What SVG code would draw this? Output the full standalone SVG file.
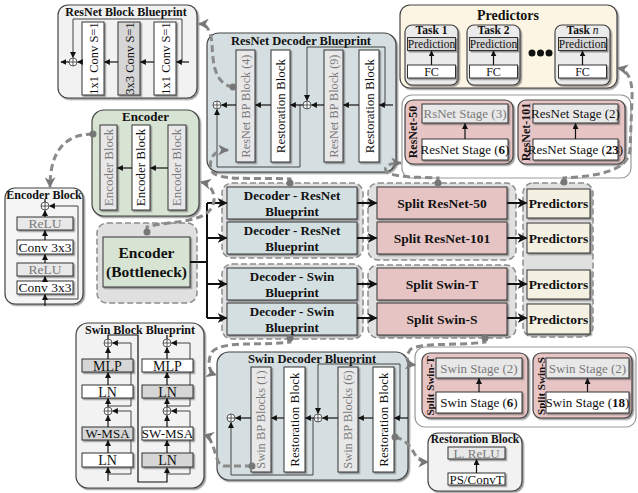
<svg xmlns="http://www.w3.org/2000/svg" width="638" height="493" viewBox="0 0 638 493">
<defs>
<marker id="a" viewBox="0 0 10 10" refX="9" refY="5" markerWidth="6" markerHeight="6" markerUnits="userSpaceOnUse" orient="auto"><path d="M0,0L10,5L0,10z" fill="#111"/></marker>
<marker id="ab" viewBox="0 0 10 10" refX="9" refY="5" markerWidth="10" markerHeight="10" markerUnits="userSpaceOnUse" orient="auto"><path d="M0,0L10,5L0,10L3,5z" fill="#111"/></marker>
<marker id="ag" viewBox="0 0 10 10" refX="9" refY="5" markerWidth="11" markerHeight="11" markerUnits="userSpaceOnUse" orient="auto"><path d="M0,0L10,5L0,10L3,5z" fill="#777"/></marker>
<filter id="sh" x="-10%" y="-10%" width="130%" height="130%"><feDropShadow dx="1.5" dy="1.5" stdDeviation="0.6" flood-color="#555" flood-opacity="0.6"/></filter>
<g id="op"><circle r="4" fill="#fff" stroke="#333" stroke-width="0.8"/><path d="M-4,0H4M0,-4V4" stroke="#333" stroke-width="0.8"/></g>
</defs>
<style>
text{font-family:"Liberation Serif","Times New Roman",serif;fill:#111}
.t{font-weight:bold;text-anchor:middle}
.c{text-anchor:middle}
.g{fill:#7a7a7a}
.box{stroke:#333;stroke-width:1;filter:url(#sh)}
.w{fill:#fff}
.gr{fill:#e8e8e8}
.gd{fill:#d6d6d6}
.panel{stroke:#444;stroke-width:1.2;filter:url(#sh)}
.grp{fill:#e0e0e0;stroke:#8c8c8c;stroke-width:1.5;stroke-dasharray:6 3}
.ln{fill:none;stroke:#111;stroke-width:1.2}
.sk{fill:none;stroke:#444;stroke-width:1}
.th{fill:none;stroke:#111;stroke-width:2}
.dc{fill:none;stroke:#8a8a8a;stroke-width:3;stroke-dasharray:7 4}
.dot{fill:#777}
</style>

<!-- ResNet Block Blueprint -->
<g id="resnet-block-blueprint">
<rect x="58" y="5" width="139" height="93" rx="10" fill="#f2f2f2" class="panel"/>
<text x="126" y="15.5" class="t" font-size="12">ResNet Block Blueprint</text>
<path class="sk" d="M182,62V19H73V57.5" marker-end="url(#a)"/>
<rect x="82" y="22" width="22" height="73" class="box w"/>
<rect x="118" y="22" width="22" height="73" class="box gd"/>
<rect x="154" y="22" width="22" height="73" class="box w"/>
<text transform="translate(93,58.5) rotate(-90)" class="c" font-size="12.5" dy="4.5">1x1 Conv S=1</text>
<text transform="translate(129,58.5) rotate(-90)" class="c" font-size="12.5" dy="4.5">3x3 Conv S=1</text>
<text transform="translate(165,58.5) rotate(-90)" class="c" font-size="12.5" dy="4.5">1x1 Conv S=1</text>
<path class="ln" d="M189,62H176.5" marker-end="url(#a)"/>
<path class="ln" d="M154,62H140.5" marker-end="url(#a)"/>
<path class="ln" d="M118,62H104.5" marker-end="url(#a)"/>
<path class="ln" d="M82,62H77.5" marker-end="url(#a)"/>
<path class="ln" d="M69,62H61" marker-end="url(#a)"/>
<use href="#op" x="73" y="62"/>
</g>

<!-- ResNet Decoder Blueprint -->
<g id="resnet-decoder-blueprint">
<rect x="207" y="33" width="189" height="139" rx="12" fill="#d5dfe1" class="panel"/>
<text x="301" y="45" class="t" font-size="12.5">ResNet Decoder Blueprint</text>
<path class="sk" d="M385,105V47H307V100.5" marker-end="url(#a)"/>
<path class="sk" d="M300,105V167H217V109.5" marker-end="url(#a)"/>
<rect x="236" y="50" width="19" height="112" class="box gr"/>
<rect x="271" y="50" width="19" height="112" class="box w"/>
<rect x="324" y="50" width="19" height="112" class="box gr"/>
<rect x="359" y="50" width="20" height="112" class="box w"/>
<text transform="translate(245.5,106) rotate(-90)" class="c g" font-size="12.2" dy="4.3">ResNet BP Block (4)</text>
<text transform="translate(280.5,106) rotate(-90)" class="c" font-size="13" dy="4.5">Restoration Block</text>
<text transform="translate(333.5,106) rotate(-90)" class="c g" font-size="12.2" dy="4.3">ResNet BP Block (9)</text>
<text transform="translate(369,106) rotate(-90)" class="c" font-size="13" dy="4.5">Restoration Block</text>
<path class="ln" d="M393,105H379.5" marker-end="url(#a)"/>
<path class="ln" d="M359,105H343.5" marker-end="url(#a)"/>
<path class="ln" d="M324,105H311.5" marker-end="url(#a)"/>
<path class="ln" d="M303,105H290.5" marker-end="url(#a)"/>
<path class="ln" d="M271,105H255.5" marker-end="url(#a)"/>
<path class="ln" d="M236,105H221.5" marker-end="url(#a)"/>
<use href="#op" x="307" y="105"/>
<use href="#op" x="217" y="105"/>
</g>

<!-- Predictors (top) -->
<g id="predictors-detail">
<rect x="400" y="5" width="217" height="83" rx="10" fill="#fdf5e4" class="panel"/>
<text x="508" y="20" class="t" font-size="14">Predictors</text>
<g id="task-1">
<rect x="405" y="25" width="53" height="60" rx="7" fill="#ebebeb" class="panel"/>
<text x="431.5" y="34" class="t" font-size="11.5">Task 1</text>
<rect x="407.5" y="37.5" width="48" height="13" class="box gd"/>
<text x="431.5" y="48" class="c" font-size="11.5">Prediction</text>
<rect x="407.5" y="65" width="48" height="13" class="box w"/>
<text x="431.5" y="75.5" class="c" font-size="12">FC</text>
<path class="ln" d="M431.5,65V51" marker-end="url(#a)"/>
</g>
<g id="task-2">
<rect x="467" y="25" width="53" height="60" rx="7" fill="#ebebeb" class="panel"/>
<text x="493.5" y="34" class="t" font-size="11.5">Task 2</text>
<rect x="469.5" y="37.5" width="48" height="13" class="box gd"/>
<text x="493.5" y="48" class="c" font-size="11.5">Prediction</text>
<rect x="469.5" y="65" width="48" height="13" class="box w"/>
<text x="493.5" y="75.5" class="c" font-size="12">FC</text>
<path class="ln" d="M493.5,65V51" marker-end="url(#a)"/>
</g>
<circle cx="532" cy="53" r="3.5" fill="#111"/>
<circle cx="540.5" cy="53" r="3.5" fill="#111"/>
<circle cx="549" cy="53" r="3.5" fill="#111"/>
<g id="task-n">
<rect x="555" y="25" width="55" height="60" rx="7" fill="#ebebeb" class="panel"/>
<text x="582.5" y="34" class="t" font-size="11.5">Task <tspan font-style="italic" font-weight="normal">n</tspan></text>
<rect x="558.5" y="37.5" width="48" height="13" class="box gd"/>
<text x="582.5" y="48" class="c" font-size="11.5">Prediction</text>
<rect x="558.5" y="65" width="48" height="13" class="box w"/>
<text x="582.5" y="75.5" class="c" font-size="12">FC</text>
<path class="ln" d="M582.5,65V51" marker-end="url(#a)"/>
</g>
</g>

<!-- ResNet stages -->
<g id="resnet-stages">
<rect x="402" y="95" width="229" height="83" rx="10" fill="#fff" stroke="#999" stroke-width="1.2"/>
<g id="resnet-50">
<rect x="405" y="100" width="108" height="64" rx="8" fill="#e8c5c5" class="panel"/>
<text transform="translate(413,132) rotate(-90)" class="t" font-size="12" dy="4.3">ResNet-50</text>
<rect x="422" y="104" width="86" height="19" class="box gr"/>
<text x="465" y="118" class="c g" font-size="13">RsNet Stage (3)</text>
<rect x="422" y="139" width="86" height="21" class="box w"/>
<text x="465" y="154" class="c" font-size="13">ResNet Stage (<tspan font-weight="bold">6</tspan>)</text>
<path class="ln" d="M465,139V123.5" marker-end="url(#a)"/>
</g>
<g id="resnet-101">
<rect x="518" y="100" width="107" height="64" rx="8" fill="#e8c5c5" class="panel"/>
<text transform="translate(525.5,132) rotate(-90)" class="t" font-size="12" dy="4.3">ResNet-101</text>
<rect x="533" y="104" width="85" height="19" class="box gr"/>
<text x="575.5" y="118" class="c" font-size="13">ResNet Stage (2)</text>
<rect x="533" y="139" width="85" height="21" class="box w"/>
<text x="575.5" y="154" class="c" font-size="13">ResNet Stage (<tspan font-weight="bold">23</tspan>)</text>
<path class="ln" d="M575.5,139V123.5" marker-end="url(#a)"/>
</g>
</g>

<!-- Encoder -->
<g id="encoder">
<rect x="92" y="110" width="107" height="106" rx="12" fill="#d8e4d3" class="panel"/>
<text x="145.5" y="121" class="t" font-size="13">Encoder</text>
<rect x="100" y="125" width="17" height="85" class="box gr"/>
<rect x="132" y="125" width="18" height="85" class="box w"/>
<rect x="168" y="125" width="18" height="85" class="box gr"/>
<text transform="translate(108.5,167.5) rotate(-90)" class="c g" font-size="13" dy="4.4">Encoder Block</text>
<text transform="translate(141,167.5) rotate(-90)" class="c" font-size="13" dy="4.4">Encoder Block</text>
<text transform="translate(177,167.5) rotate(-90)" class="c g" font-size="13" dy="4.4">Encoder Block</text>
<path class="ln" d="M168,168H150.5" marker-end="url(#a)"/>
<path class="ln" d="M132,168H117.5" marker-end="url(#a)"/>
</g>

<!-- Encoder Block detail -->
<g id="encoder-block">
<rect x="5" y="188" width="78" height="116" rx="10" fill="#f5f5f5" class="panel"/>
<text x="44" y="198.5" class="t" font-size="12">Encoder Block</text>
<path class="sk" d="M45,299H78V206H49.5" marker-end="url(#a)"/>
<path class="ln" d="M45,202V199"/>
<rect x="17" y="217" width="56" height="13" class="box gr"/>
<text x="45" y="228" class="c g" font-size="13.5">ReLU</text>
<rect x="17" y="240" width="56" height="14" class="box w"/>
<text x="45" y="251.5" class="c" font-size="13.5">Conv 3x3</text>
<rect x="17" y="263" width="56" height="13" class="box gr"/>
<text x="45" y="274" class="c g" font-size="13.5">ReLU</text>
<rect x="17" y="281" width="56" height="13" class="box w"/>
<text x="45" y="292" class="c" font-size="13.5">Conv 3x3</text>
<path class="ln" d="M45,306V294.5" marker-end="url(#a)"/>
<path class="ln" d="M45,281V276.5" marker-end="url(#a)"/>
<path class="ln" d="M45,263V254.5" marker-end="url(#a)"/>
<path class="ln" d="M45,240V230.5" marker-end="url(#a)"/>
<path class="ln" d="M45,217V210.5" marker-end="url(#a)"/>
<use href="#op" x="45" y="206"/>
</g>

<!-- Main flow groups -->
<g id="encoder-bottleneck">
<rect x="97" y="223" width="100" height="80" rx="10" class="grp"/>
<rect x="103" y="237" width="87" height="50" fill="#d8e4d3" class="box"/>
<text x="146.5" y="258" class="t" font-size="15.5">Encoder</text>
<text x="146.5" y="277" class="t" font-size="15.5">(Bottleneck)</text>
</g>

<g id="decoder-resnet-group">
<rect x="222" y="183" width="141" height="75" rx="10" class="grp"/>
<rect x="227" y="187" width="130" height="32" fill="#d3dfe1" class="box"/>
<text x="292" y="200" class="t" font-size="13">Decoder - ResNet</text>
<text x="292" y="215.5" class="t" font-size="13">Blueprint</text>
<rect x="227" y="222" width="130" height="32" fill="#d3dfe1" class="box"/>
<text x="292" y="235" class="t" font-size="13">Decoder - ResNet</text>
<text x="292" y="250.5" class="t" font-size="13">Blueprint</text>
</g>

<g id="decoder-swin-group">
<rect x="222" y="264" width="141" height="75" rx="10" class="grp"/>
<rect x="227" y="268" width="130" height="32" fill="#d3dfe1" class="box"/>
<text x="292" y="281" class="t" font-size="13">Decoder - Swin</text>
<text x="292" y="296.5" class="t" font-size="13">Blueprint</text>
<rect x="227" y="303" width="130" height="32" fill="#d3dfe1" class="box"/>
<text x="292" y="316" class="t" font-size="13">Decoder - Swin</text>
<text x="292" y="331.5" class="t" font-size="13">Blueprint</text>
</g>

<g id="split-resnet-group">
<rect x="368" y="183" width="148" height="77" rx="10" class="grp"/>
<rect x="377" y="187" width="130" height="32" fill="#e6c4c4" class="box"/>
<text x="442" y="208" class="t" font-size="13.5">Split ResNet-50</text>
<rect x="377" y="222" width="130" height="32" fill="#e6c4c4" class="box"/>
<text x="442" y="243" class="t" font-size="13.5">Split ResNet-101</text>
</g>

<g id="split-swin-group">
<rect x="368" y="265" width="148" height="73" rx="10" class="grp"/>
<rect x="377" y="268" width="130" height="32" fill="#e6c4c4" class="box"/>
<text x="442" y="289" class="t" font-size="13.5">Split Swin-T</text>
<rect x="377" y="303" width="130" height="32" fill="#e6c4c4" class="box"/>
<text x="442" y="324" class="t" font-size="13.5">Split Swin-S</text>
</g>

<g id="predictors-group">
<rect x="523" y="183" width="70" height="154" rx="10" class="grp"/>
<rect x="527" y="189" width="63" height="29" fill="#f4f0e2" class="box"/>
<text x="558.5" y="208" class="t" font-size="13.5">Predictors</text>
<rect x="527" y="223" width="63" height="30" fill="#f4f0e2" class="box"/>
<text x="558.5" y="243" class="t" font-size="13.5">Predictors</text>
<rect x="527" y="270" width="63" height="29" fill="#f4f0e2" class="box"/>
<text x="558.5" y="289" class="t" font-size="13.5">Predictors</text>
<rect x="527" y="304" width="63" height="30" fill="#f4f0e2" class="box"/>
<text x="558.5" y="324" class="t" font-size="13.5">Predictors</text>
</g>

<!-- Swin Block Blueprint -->
<g id="swin-block-blueprint">
<rect x="76" y="323" width="128" height="165" rx="12" fill="#f2f2f2" class="panel"/>
<text x="140" y="333.5" class="t" font-size="12">Swin Block Blueprint</text>
<path class="sk" d="M108,406H131V343H112.5" marker-end="url(#a)"/>
<path class="sk" d="M108,474H131V411H112.5" marker-end="url(#a)"/>
<path class="sk" d="M167,406H190V343H171.5" marker-end="url(#a)"/>
<path class="sk" d="M167,474H190V411H171.5" marker-end="url(#a)"/>
<path class="ln" d="M108,339V335H138V482H167V467.5" marker-end="url(#a)"/>
<path class="ln" d="M167,339V335"/>
<rect x="82" y="359" width="51" height="13" class="box gd"/>
<text x="107.5" y="370.5" class="c" font-size="14">MLP</text>
<rect x="82" y="385" width="51" height="13" class="box w"/>
<text x="107.5" y="396.5" class="c" font-size="14">LN</text>
<rect x="82" y="427" width="51" height="13" class="box gd"/>
<text x="107.5" y="438" class="c" font-size="13">W-MSA</text>
<rect x="82" y="453" width="51" height="14" class="box w"/>
<text x="107.5" y="465" class="c" font-size="14">LN</text>
<rect x="142" y="359" width="51" height="13" class="box w"/>
<text x="167.5" y="370.5" class="c" font-size="14">MLP</text>
<rect x="142" y="385" width="51" height="13" class="box gd"/>
<text x="167.5" y="396.5" class="c" font-size="14">LN</text>
<rect x="142" y="427" width="51" height="13" class="box w"/>
<text x="167.5" y="438" class="c" font-size="13">SW-MSA</text>
<rect x="142" y="453" width="51" height="14" class="box gd"/>
<text x="167.5" y="465" class="c" font-size="14">LN</text>
<path class="ln" d="M108,481V467.5" marker-end="url(#a)"/>
<path class="ln" d="M108,453V440.5" marker-end="url(#a)"/>
<path class="ln" d="M108,427V415.5" marker-end="url(#a)"/>
<path class="ln" d="M108,407V398.5" marker-end="url(#a)"/>
<path class="ln" d="M108,385V372.5" marker-end="url(#a)"/>
<path class="ln" d="M108,359V347.5" marker-end="url(#a)"/>
<path class="ln" d="M167,453V440.5" marker-end="url(#a)"/>
<path class="ln" d="M167,427V415.5" marker-end="url(#a)"/>
<path class="ln" d="M167,407V398.5" marker-end="url(#a)"/>
<path class="ln" d="M167,385V372.5" marker-end="url(#a)"/>
<path class="ln" d="M167,359V347.5" marker-end="url(#a)"/>
<use href="#op" x="108" y="343"/>
<use href="#op" x="108" y="411"/>
<use href="#op" x="167" y="343"/>
<use href="#op" x="167" y="411"/>
</g>

<!-- Swin Decoder Blueprint -->
<g id="swin-decoder-blueprint">
<rect x="217" y="352" width="191" height="128" rx="12" fill="#d5dfe1" class="panel"/>
<text x="312" y="362.5" class="t" font-size="12.5">Swin Decoder Blueprint</text>
<path class="sk" d="M400,418V364H318V413.5" marker-end="url(#a)"/>
<path class="sk" d="M313,418V475H231V422.5" marker-end="url(#a)"/>
<rect x="251" y="367" width="20" height="105" class="box gr"/>
<rect x="284" y="367" width="21" height="105" class="box w"/>
<rect x="338" y="367" width="20" height="105" class="box gr"/>
<rect x="373" y="367" width="21" height="105" class="box w"/>
<text transform="translate(261,419.5) rotate(-90)" class="c g" font-size="12.4" dy="4.4">Swin BP Blocks (1)</text>
<text transform="translate(294.5,419.5) rotate(-90)" class="c" font-size="13" dy="4.5">Restoration Block</text>
<text transform="translate(348,419.5) rotate(-90)" class="c g" font-size="12.4" dy="4.4">Swin BP Blocks (6)</text>
<text transform="translate(383.5,419.5) rotate(-90)" class="c" font-size="13" dy="4.5">Restoration Block</text>
<path class="ln" d="M408,418H394.5" marker-end="url(#a)"/>
<path class="ln" d="M373,418H358.5" marker-end="url(#a)"/>
<path class="ln" d="M338,418H322.5" marker-end="url(#a)"/>
<path class="ln" d="M314,418H305.5" marker-end="url(#a)"/>
<path class="ln" d="M284,418H271.5" marker-end="url(#a)"/>
<path class="ln" d="M251,418H235.5" marker-end="url(#a)"/>
<use href="#op" x="318" y="418"/>
<use href="#op" x="231" y="418"/>
</g>

<!-- Swin stages -->
<g id="swin-stages">
<rect x="415" y="347" width="221" height="80" rx="10" fill="#fff" stroke="#999" stroke-width="1.2"/>
<g id="split-swin-t">
<rect x="422" y="353" width="106" height="65" rx="8" fill="#e8c5c5" class="panel"/>
<text transform="translate(429.5,386) rotate(-90)" class="t" font-size="11" dy="4">Split Swin-T</text>
<rect x="436" y="358" width="86" height="20" class="box gr"/>
<text x="479" y="372.5" class="c g" font-size="13">Swin Stage (2)</text>
<rect x="436" y="392" width="86" height="21" class="box w"/>
<text x="479" y="407" class="c" font-size="13">Swin Stage (<tspan font-weight="bold">6</tspan>)</text>
<path class="ln" d="M479,392V378.5" marker-end="url(#a)"/>
</g>
<g id="split-swin-s">
<rect x="533" y="353" width="99" height="65" rx="8" fill="#e8c5c5" class="panel"/>
<text transform="translate(540.5,386) rotate(-90)" class="t" font-size="11" dy="4">Split Swin-S</text>
<rect x="546" y="358" width="83" height="20" class="box gr"/>
<text x="587.5" y="372.5" class="c g" font-size="13">Swin Stage (2)</text>
<rect x="546" y="392" width="83" height="21" class="box w"/>
<text x="587.5" y="407" class="c" font-size="13">Swin Stage (<tspan font-weight="bold">18</tspan>)</text>
<path class="ln" d="M587.5,392V378.5" marker-end="url(#a)"/>
</g>
</g>

<!-- Restoration Block detail -->
<g id="restoration-block">
<rect x="428" y="433" width="94" height="58" rx="10" fill="#f2f2f2" class="panel"/>
<text x="475" y="443" class="t" font-size="11.5">Restoration Block</text>
<rect x="448" y="447" width="57" height="12" class="box gr"/>
<text x="476.5" y="457.5" class="c g" font-size="13">L. ReLU</text>
<rect x="448" y="473" width="57" height="12" class="box w"/>
<text x="476.5" y="483.5" class="c" font-size="13">PS/ConvT</text>
<path class="ln" d="M476.5,473V459.5" marker-end="url(#a)"/>
</g>

<!-- Connectors -->
<g id="connectors">
<path class="th" d="M190,262H207" stroke-width="3"/>
<path class="th" d="M207,203V318"/>
<path class="th" d="M207,203H226.5" marker-end="url(#ab)"/>
<path class="th" d="M207,238H226.5" marker-end="url(#ab)"/>
<path class="th" d="M207,284H226.5" marker-end="url(#ab)"/>
<path class="th" d="M207,318H226.5" marker-end="url(#ab)"/>
<path class="th" d="M357,203H376.5" marker-end="url(#ab)"/>
<path class="th" d="M357,238H376.5" marker-end="url(#ab)"/>
<path class="th" d="M357,284H376.5" marker-end="url(#ab)"/>
<path class="th" d="M357,318H376.5" marker-end="url(#ab)"/>
<path class="th" d="M507,203H526.5" marker-end="url(#ab)"/>
<path class="th" d="M507,238H526.5" marker-end="url(#ab)"/>
<path class="th" d="M507,284H526.5" marker-end="url(#ab)"/>
<path class="th" d="M507,318H526.5" marker-end="url(#ab)"/>

<path class="dc" d="M233,87C214,84 213,62 212,45C211,30 207,24 199,24" marker-end="url(#ag)"/>
<path class="dc" d="M93,134C66,134 50,150 50,187" marker-end="url(#ag)"/>
<path class="dc" d="M147,232V227C165,221 198,224 210,210C218,200 214,185 201,182" marker-end="url(#ag)"/>
<path class="dc" d="M290,183V179C255,177 215,182 211,170C209,160 212,150 228,150" marker-end="url(#ag)"/>
<path class="dc" d="M438,183V178C420,177 392,178 386,171C383,166 390,163 401,163" marker-end="url(#ag)"/>
<path class="dc" d="M564,182V178C595,176 628,172 630,150L632,100C633,80 628,70 618,68" marker-end="url(#ag)"/>
<path class="dc" d="M290,338V342C265,346 222,340 212,352C208,358 207,372 216,375" marker-end="url(#ag)"/>
<path class="dc" d="M252,466H224C214,466 216,438 204,435" marker-end="url(#ag)"/>
<path class="dc" d="M485,338V342C460,346 418,342 410,350C406,356 405,364 415,365" marker-end="url(#ag)"/>
<path class="dc" d="M395,437C408,440 412,450 416,456C419,460 422,462 428,462" marker-end="url(#ag)"/>
<circle class="dot" cx="233" cy="87" r="3.5"/>
<circle class="dot" cx="93" cy="134" r="3.5"/>
<circle class="dot" cx="147" cy="232" r="3.5"/>
<circle class="dot" cx="290" cy="183" r="3.5"/>
<circle class="dot" cx="438" cy="183" r="3.5"/>
<circle class="dot" cx="564" cy="182" r="3.5"/>
<circle class="dot" cx="290" cy="338" r="3.5"/>
<circle class="dot" cx="252" cy="466" r="3.5"/>
<circle class="dot" cx="485" cy="338" r="3.5"/>
<circle class="dot" cx="395" cy="437" r="3.5"/>
</g>
</svg>
